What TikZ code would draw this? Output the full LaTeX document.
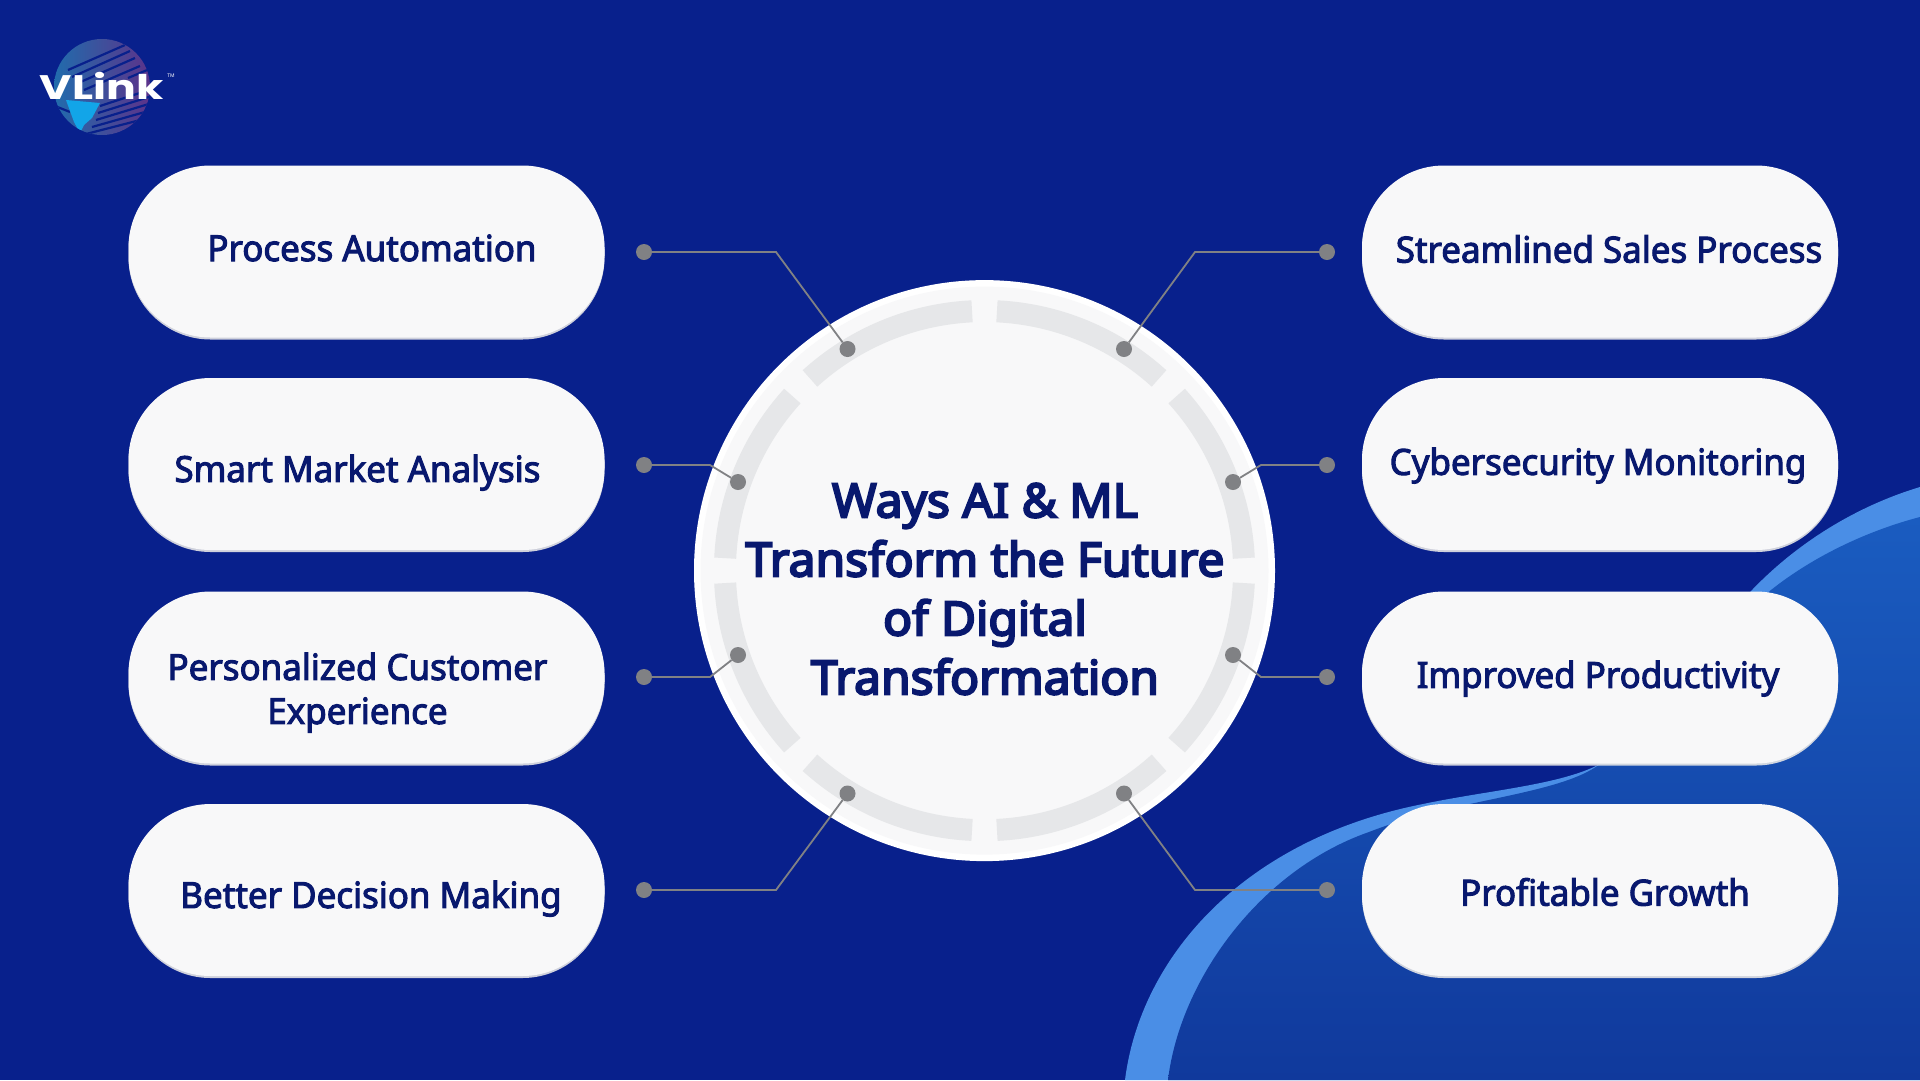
\documentclass[tikz,border=0pt]{standalone}
\usepackage{fontspec}
\usetikzlibrary{shadows}
\setmainfont{Noto Sans}
\newfontfamily\labelfont{Noto Sans}[FakeStretch=0.97,FakeBold=2.8]
\newfontfamily\titlefont{Noto Sans}[FakeStretch=1.02,FakeBold=4.5]
\newfontfamily\logofont{Poppins}[FakeStretch=1.3]
\definecolor{navybg}{HTML}{08208C}
\definecolor{inktext}{HTML}{08186E}
\definecolor{wavelight}{HTML}{4A8EE6}
\definecolor{wavetop}{HTML}{1A5CC0}
\definecolor{wavebot}{HTML}{10399C}
\definecolor{paper}{HTML}{F8F8F9}
\definecolor{segment}{HTML}{E6E7E9}
\definecolor{wiregray}{HTML}{808184}
\definecolor{globeleft}{HTML}{2A86B8}
\definecolor{globeright}{HTML}{7A3A8A}
\definecolor{landcyan}{HTML}{12A5E8}
\tikzset{
	pill/.style={fill=paper, rounded corners=82pt, minimum width=476pt, minimum height=172pt, inner sep=0pt,
		drop shadow={shadow xshift=0pt, shadow yshift=-2pt, fill=black!10, opacity=.9}},
	pilltext/.style={text=inktext, align=center, font=\labelfont\fontsize{36}{44}\selectfont},
	dotmark/.style={circle, fill=wiregray, minimum size=16pt, inner sep=0pt},
	wire/.style={draw=wiregray, line width=1.8pt},
	ringpart/.style={draw=segment, line width=22pt},
	stripe/.style={navybg, line width=2.2pt}
}
\begin{document}
\begin{tikzpicture}[x=1pt,y=-1pt]
	\useasboundingbox (0,0) rectangle (1920,1080);
	\fill[navybg] (0,0) rectangle (1920,1080);

	\fill[wavelight] (1125,1080) .. controls (1140,960) and (1240,840) .. (1423,804) .. controls (1490,790) and (1560,785) .. (1600,764) .. controls (1660,730) and (1690,660) .. (1752,590) .. controls (1800,540) and (1860,505) .. (1920,487) -- (1920,1080) -- cycle;
	\shade[top color=wavetop, bottom color=wavebot] (1168,1080) .. controls (1180,980) and (1260,870) .. (1369,832) .. controls (1450,800) and (1560,795) .. (1600,764) .. controls (1670,730) and (1700,650) .. (1771,590) .. controls (1815,555) and (1870,530) .. (1920,517) -- (1920,1080) -- cycle;

	\shade[left color=globeleft, right color=globeright, opacity=.75] (102,87) circle (48);
	\begin{scope}
		\clip (102,87) circle (48);
		\draw[stripe] (68,70) -- (125,45);
		\draw[stripe] (72,77) -- (130,51);
		\draw[stripe] (76,84) -- (135,58);
		\draw[stripe] (84,90) -- (140,66);
		\draw[stripe] (128,78) -- (152,68);
		\draw[stripe] (100,106) -- (152,89);
		\draw[stripe] (98,113) -- (152,96);
		\draw[stripe] (96,120) -- (152,103);
		\draw[stripe] (92,127) -- (152,110);
		\draw[stripe] (86,134) -- (152,117);
		\draw[stripe] (55,106) -- (70,112);
		\fill[landcyan] (66,100) -- (100,103) -- (92,118) -- (84,125) -- (80,133) -- (74,122) -- cycle;
	\end{scope}
	\node[text=white, font=\logofont\bfseries\fontsize{34}{34}\selectfont, inner sep=0pt] (vlink) at (101.6,86) {VLink};
	\node[text=white, font=\fontsize{5}{5}\selectfont, inner sep=0pt] (tmark) at (171,76) {TM};

	\node[pill] (p1) at (366.5,251.5) {};
	\node[pill] (p2) at (366.5,464) {};
	\node[pill] (p3) at (366.5,677.5) {};
	\node[pill] (p4) at (366.5,890) {};
	\node[pill] (p5) at (1600,251.5) {};
	\node[pill] (p6) at (1600,464) {};
	\node[pill] (p7) at (1600,677.5) {};
	\node[pill] (p8) at (1600,890) {};

	\node[pilltext] (l1) at (372,248) {Process Automation};
	\node[pilltext] (l2) at (357.5,472.6) {Smart Market Analysis};
	\node[pilltext] (l3) at (357.5,692.6) {Personalized Customer\\Experience};
	\node[pilltext] (l4) at (371,898.6) {Better Decision Making};
	\node[pilltext] (l5) at (1609,249) {Streamlined Sales Process};
	\node[pilltext] (l6) at (1598,465.5) {Cybersecurity Monitoring};
	\node[pilltext] (l7) at (1598,678.5) {Improved Productivity};
	\node[pilltext] (l8) at (1605,892) {Profitable Growth};

	\node[circle, fill=white, minimum size=581pt, inner sep=0pt] (hub) at (984.5,570.6) {};
	\fill[paper] (984.5,570.6) circle (284);
	\draw[ringpart] (984.5,570.6) ++(2.75:259.6) arc[start angle=2.75, end angle=42.25, radius=259.6];
	\draw[ringpart] (984.5,570.6) ++(47.75:259.6) arc[start angle=47.75, end angle=87.25, radius=259.6];
	\draw[ringpart] (984.5,570.6) ++(92.75:259.6) arc[start angle=92.75, end angle=132.25, radius=259.6];
	\draw[ringpart] (984.5,570.6) ++(137.75:259.6) arc[start angle=137.75, end angle=177.25, radius=259.6];
	\draw[ringpart] (984.5,570.6) ++(182.75:259.6) arc[start angle=182.75, end angle=222.25, radius=259.6];
	\draw[ringpart] (984.5,570.6) ++(227.75:259.6) arc[start angle=227.75, end angle=267.25, radius=259.6];
	\draw[ringpart] (984.5,570.6) ++(272.75:259.6) arc[start angle=272.75, end angle=312.25, radius=259.6];
	\draw[ringpart] (984.5,570.6) ++(317.75:259.6) arc[start angle=317.75, end angle=357.25, radius=259.6];

	\node[text=inktext, align=center, font=\titlefont\fontsize{47}{59}\selectfont] (title) at (985,589) {Ways AI \& ML\\Transform the Future\\of Digital\\Transformation};

	\node[dotmark] (a1) at (644,252) {};
	\node[dotmark] (a2) at (644,465) {};
	\node[dotmark] (a3) at (644,677) {};
	\node[dotmark] (a4) at (644,890) {};
	\node[dotmark] (a5) at (1327,252) {};
	\node[dotmark] (a6) at (1327,465) {};
	\node[dotmark] (a7) at (1327,677) {};
	\node[dotmark] (a8) at (1327,890) {};
	\node[dotmark] (b1) at (847.5,349) {};
	\node[dotmark] (b2) at (738,482) {};
	\node[dotmark] (b3) at (738,655) {};
	\node[dotmark] (b4) at (847.5,793.5) {};
	\node[dotmark] (b5) at (1124,349) {};
	\node[dotmark] (b6) at (1233,482) {};
	\node[dotmark] (b7) at (1233,655) {};
	\node[dotmark] (b8) at (1124,793.5) {};
	\coordinate (e1) at (776,252);
	\coordinate (e2) at (710,465);
	\coordinate (e3) at (710,677);
	\coordinate (e4) at (776,890);
	\coordinate (e5) at (1195,252);
	\coordinate (e6) at (1261,465);
	\coordinate (e7) at (1261,677);
	\coordinate (e8) at (1195,890);
	\draw[wire] (a1) -- (e1) -- (b1);
	\draw[wire] (a2) -- (e2) -- (b2);
	\draw[wire] (a3) -- (e3) -- (b3);
	\draw[wire] (a4) -- (e4) -- (b4);
	\draw[wire] (a5) -- (e5) -- (b5);
	\draw[wire] (a6) -- (e6) -- (b6);
	\draw[wire] (a7) -- (e7) -- (b7);
	\draw[wire] (a8) -- (e8) -- (b8);
\end{tikzpicture}
\end{document}
